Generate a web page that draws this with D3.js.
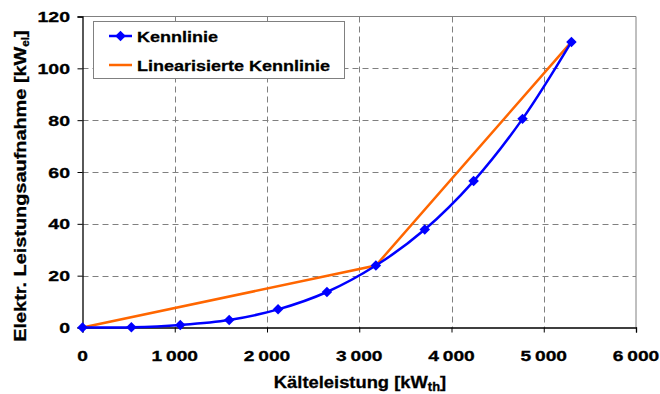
<!DOCTYPE html>
<html>
<head>
<meta charset="utf-8">
<script src="https://cdn.jsdelivr.net/npm/d3@7"></script>
<style>
  html, body { margin: 0; padding: 0; background: #fff; }
  svg text { font-family: "Liberation Sans", Arial, sans-serif; font-weight: bold; fill: #000; stroke: #000; stroke-width: 0.3px; }
</style>
</head>
<body>
<svg id="chart" width="660" height="394"></svg>
<script>
// Measured characteristic: cooling capacity (kW_th) vs. electrical input (kW_el)
const kaelteleistung = [0, 530, 1060, 1590, 2120, 2650, 3180, 3710, 4240, 4770, 5300];
const kennlinie      = [0, 0.1, 1.0, 2.9, 7.0, 13.7, 23.9, 37.8, 56.5, 80.5, 110.2];

// Piecewise linear approximation
const linX = [0, 3180, 5300];
const linY = [0, 23.9, 110.2];

const xTicks = [0, 1000, 2000, 3000, 4000, 5000, 6000];
const yTicks = [0, 20, 40, 60, 80, 100, 120];

const seriesNames = ["Kennlinie", "Linearisierte Kennlinie"];
const colors = ["#0000FF", "#FF6600"];

const svg = d3.select("#chart");
const plotL = 82.5, plotR = 636, plotT = 16.5, plotB = 327.5;

const x = d3.scaleLinear().domain([0, 6000]).range([plotL, plotR]);
const y = d3.scaleLinear().domain([0, 120]).range([plotB, plotT]);

const fmt = v => d3.format(",")(v).replace(/,/g, "\u2009");

// Text drawn with a slight horizontal widening, anchored at (px, py)
function wideText(parent, px, py, str, size, sx, anchor, rotate) {
  const g = parent.append("g")
    .attr("transform", `translate(${px},${py})` + (rotate ? ` rotate(${rotate})` : "") + ` scale(${sx},1)`);
  return g.append("text").attr("x", 0).attr("y", 0)
    .attr("text-anchor", anchor).style("font-size", size + "px").text(str);
}

// Plot frame (top and right in grey)
svg.append("path")
  .attr("d", `M${plotL},${plotT}H${plotR}V${plotB}`)
  .attr("fill", "none").attr("stroke", "#808080").attr("stroke-width", 1);

// Dashed gridlines
const grid = svg.append("g").attr("stroke", "#808080").attr("stroke-width", 1).attr("stroke-dasharray", "6,4");
grid.selectAll(".gx").data(xTicks.filter(d => d > 0 && d < 6000)).join("line")
  .attr("x1", d => Math.round(x(d)) + 0.5).attr("x2", d => Math.round(x(d)) + 0.5)
  .attr("y1", plotT).attr("y2", plotB);
grid.selectAll(".gy").data(yTicks.filter(d => d > 0 && d < 120)).join("line")
  .attr("y1", d => Math.round(y(d)) + 0.5).attr("y2", d => Math.round(y(d)) + 0.5)
  .attr("x1", plotL).attr("x2", plotR);

// Axes
const xAxis = svg.append("g").attr("transform", `translate(0,${plotB})`)
  .call(d3.axisBottom(x).tickValues(xTicks).tickSize(5).tickFormat(""));
const yAxis = svg.append("g").attr("transform", `translate(${plotL},0)`)
  .call(d3.axisLeft(y).tickValues(yTicks).tickSize(5).tickFormat(""));
[xAxis, yAxis].forEach(a => {
  a.select(".domain").attr("stroke", "#000").attr("stroke-width", 1.3);
  a.selectAll(".tick line").attr("stroke", "#000");
});

// Tick labels
const labels = svg.append("g");
xTicks.forEach(v => wideText(labels, x(v), 361, fmt(v), 15, 1.28, "middle"));
yTicks.forEach(v => wideText(labels, 70, y(v) + 5.5, fmt(v), 15, 1.3, "end"));

// Axis titles
const xt = wideText(svg, 360, 388, "Kälteleistung [kW", 17, 1.08, "middle");
xt.append("tspan").attr("dy", 3).style("font-size", "12px").text("th");
xt.append("tspan").attr("dy", -3).text("]");

const yt = wideText(svg, 26, 186, "Elektr. Leistungsaufnahme [kW", 17, 1.17, "middle", -90);
yt.append("tspan").attr("dy", 3).style("font-size", "10px").text("el");
yt.append("tspan").attr("dy", -3).text("]");

// Linearised line
const line = d3.line().x(d => x(d[0])).y(d => y(d[1]));
svg.append("path")
  .datum(d3.zip(linX, linY))
  .attr("d", line)
  .attr("fill", "none").attr("stroke", colors[1]).attr("stroke-width", 2.5);

// Measured characteristic (smoothed)
const kData = d3.zip(kaelteleistung, kennlinie);
svg.append("path")
  .datum(kData)
  .attr("d", line.curve(d3.curveCatmullRom.alpha(0.5)))
  .attr("fill", "none").attr("stroke", colors[0]).attr("stroke-width", 2.5);

const diamond = d3.symbol().type(d3.symbolDiamond2).size(70);
svg.selectAll(".marker").data(kData).join("path")
  .attr("transform", d => `translate(${x(d[0])},${y(d[1])})`)
  .attr("d", diamond).attr("fill", colors[0]);

// Legend
const lg = svg.append("g");
lg.append("rect").attr("x", 93.5).attr("y", 21.5).attr("width", 251).attr("height", 57)
  .attr("fill", "#fff").attr("stroke", "#808080").attr("stroke-width", 1);
seriesNames.forEach((name, i) => {
  const ly = 36 + i * 29;
  lg.append("line").attr("x1", 109).attr("x2", 132).attr("y1", ly).attr("y2", ly)
    .attr("stroke", colors[i]).attr("stroke-width", 2.5);
  if (i === 0) {
    lg.append("path").attr("transform", `translate(120.5,${ly})`).attr("d", diamond).attr("fill", colors[0]);
  }
  wideText(lg, 137, ly + 6, name, 15.4, 1.17, "start");
});
</script>
</body>
</html>
